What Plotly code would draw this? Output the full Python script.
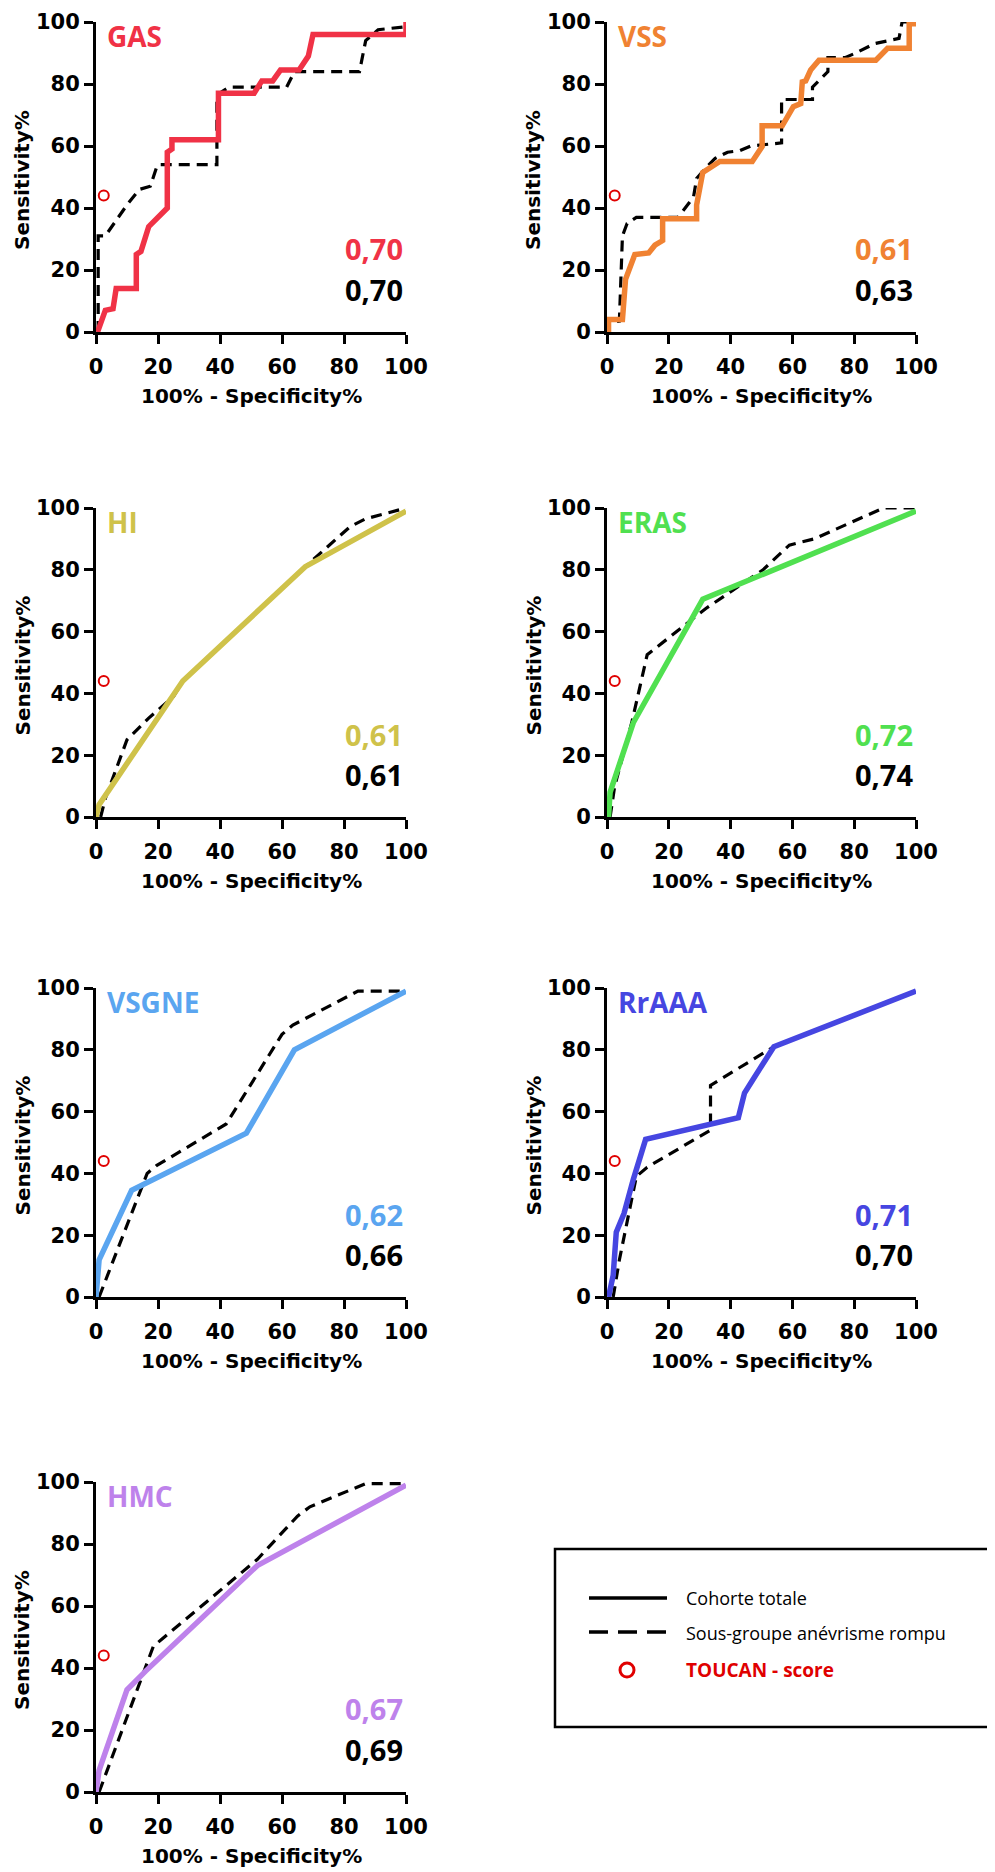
import plotly.graph_objects as go

# ROC curves, x = 100% - Specificity%, y = Sensitivity%
gas_fpr = [0.5, 3, 5.5, 6.5, 13, 13, 14.5, 17, 23, 23, 24.5, 24.5, 39.5, 39.5, 51, 53.5, 57, 59.5, 65.5, 68.5, 70, 100, 100]
gas_sens = [0, 7, 7.5, 14, 14, 25, 26, 34, 40, 58, 59, 62, 62, 77, 77, 81, 81, 84.5, 84.5, 89, 96, 96, 100]
gas_sub_fpr = [0.7, 0.7, 3, 10, 14, 17.5, 19.5, 20, 39, 39, 43, 61.5, 64, 85, 87, 91, 100, 100]
gas_sub_sens = [0, 31, 31, 41, 46, 47, 53, 54, 54, 76.5, 79, 79, 84, 84, 94, 97.5, 98.5, 100]

vss_fpr = [0.5, 0.5, 5, 6, 9, 13.5, 15.5, 18, 18, 29, 29, 31, 36.5, 47, 50.2, 50.2, 56.7, 60.3, 62.7, 63.2, 64.3, 65.9, 68.6, 87, 90.8, 97.8, 97.8, 100]
vss_sens = [0, 4, 4, 17, 25, 25.5, 28, 29.5, 36.5, 36.5, 41, 51.5, 55, 55, 59.8, 66.5, 66.5, 72.7, 73.7, 80.7, 81, 84.5, 87.7, 87.7, 91.5, 91.5, 99.4, 99.4]
vss_sub_fpr = [0, 0.5, 4, 5, 6.5, 9.5, 23, 28, 29, 32, 35, 39, 43, 46.5, 56.5, 56.5, 66.5, 66.5, 71.5, 71.5, 77, 80.5, 86.5, 94.5, 95.5, 100]
vss_sub_sens = [0, 3, 3.5, 31, 35, 37, 37, 43.5, 49.5, 53, 56, 58, 58.5, 60, 61, 75, 75, 79, 84, 88.5, 88.5, 90, 93, 94.7, 100, 100]

hi_fpr = [0, 1, 28, 67.5, 100]
hi_sens = [0, 4, 44, 81, 99]
hi_sub_fpr = [1.5, 3, 10, 17, 25, 28, 67.5, 72, 82, 87, 100]
hi_sub_sens = [0, 6, 25, 32, 39, 44, 81, 85, 94, 96.5, 100]

eras_fpr = [0.5, 1, 8.5, 31, 100]
eras_sens = [0, 8, 30.5, 70.5, 99]
eras_sub_fpr = [1, 2.5, 8, 13, 32, 41, 50.5, 59, 67, 89.5, 100]
eras_sub_sens = [0, 10, 30.5, 52.5, 67.5, 73.5, 80, 88, 90, 100, 100]

vsgne_fpr = [0, 1, 11.5, 48.5, 64, 100]
vsgne_sens = [0, 12, 34.5, 53, 80, 99]
vsgne_sub_fpr = [1, 16.5, 19.5, 42, 60, 63.5, 84.5, 100]
vsgne_sub_sens = [0, 40, 42.5, 56, 85, 88, 99, 99]

rraaa_fpr = [0.5, 2, 3, 5.5, 8.5, 12.5, 42.5, 44.5, 47, 54, 100]
rraaa_sens = [0, 7, 21, 27, 38, 51, 58, 66, 70, 81, 99]
rraaa_sub_fpr = [2, 4, 9.5, 13, 33.5, 33.5, 54, 100]
rraaa_sub_sens = [0, 12, 39, 42, 54, 68.5, 81, 99]

hmc_fpr = [0, 1, 10, 16, 52, 100]
hmc_sens = [0, 7, 33, 39, 73, 99]
hmc_sub_fpr = [1, 12, 18.5, 21.5, 52, 65, 69, 87, 100]
hmc_sub_sens = [0, 29.5, 47, 49.5, 75, 89, 92, 99.5, 99.5]

# TOUCAN score point (same in every panel)
toucan_fpr = [2.5]
toucan_sens = [44]

score_names = ['GAS', 'VSS', 'HI', 'ERAS', 'VSGNE', 'RrAAA', 'HMC']
score_colors = ['#F03246', '#F08232', '#CFC24A', '#50E050', '#5AA5F0', '#4646E1', '#BE82EB']
auc_total = ['0,70', '0,61', '0,61', '0,72', '0,62', '0,71', '0,67']
auc_sub = ['0,70', '0,63', '0,61', '0,74', '0,66', '0,70', '0,69']

curves = [
    (gas_fpr, gas_sens, gas_sub_fpr, gas_sub_sens),
    (vss_fpr, vss_sens, vss_sub_fpr, vss_sub_sens),
    (hi_fpr, hi_sens, hi_sub_fpr, hi_sub_sens),
    (eras_fpr, eras_sens, eras_sub_fpr, eras_sub_sens),
    (vsgne_fpr, vsgne_sens, vsgne_sub_fpr, vsgne_sub_sens),
    (rraaa_fpr, rraaa_sens, rraaa_sub_fpr, rraaa_sub_sens),
    (hmc_fpr, hmc_sens, hmc_sub_fpr, hmc_sub_sens),
]

# page body adds an 8px margin, so the figure is drawn 8px in from the corner
OX, OY = 8, 8
W, H = 995 - OX, 1872 - OY
RED = '#E00000'
cols = [(96, 406), (607, 916)]
rows = [(22, 332), (508, 817), (988, 1297), (1482, 1792)]


def px(xp, yp):
    """screen pixel -> paper fraction"""
    return (xp - OX) / W, 1 - (yp - OY) / H


tick_font = dict(family='DejaVu Sans', size=21, color='black', weight='bold')
axis_common = dict(
    range=[0, 100], tickvals=[0, 20, 40, 60, 80, 100], automargin=False,
    showline=True, linecolor='black', linewidth=3,
    ticks='outside', ticklen=9, tickwidth=3, tickcolor='black',
    showgrid=False, zeroline=False, tickfont=tick_font, fixedrange=True,
)

fig = go.Figure()
annotations = []

for i, name in enumerate(score_names):
    n = i + 1
    sfx = '' if n == 1 else str(n)
    xa, ya = 'x' + sfx, 'y' + sfx
    r, c = divmod(i, 2)
    x0, x1 = cols[c]
    y0, y1 = rows[r]
    fpr, sens, sub_fpr, sub_sens = curves[i]
    color = score_colors[i]

    # subgroup (dashed) first so the total cohort line sits on top
    fig.add_trace(go.Scatter(
        x=sub_fpr, y=sub_sens, mode='lines', xaxis=xa, yaxis=ya,
        line=dict(color='black', width=3.2, dash='11px,7px'),
        showlegend=False, hoverinfo='skip'))
    fig.add_trace(go.Scatter(
        x=fpr, y=sens, mode='lines', xaxis=xa, yaxis=ya,
        line=dict(color=color, width=5.5),
        showlegend=False, hoverinfo='skip'))
    fig.add_trace(go.Scatter(
        x=toucan_fpr, y=toucan_sens, mode='markers', xaxis=xa, yaxis=ya,
        marker=dict(symbol='circle-open', size=10, color=RED, line=dict(width=2, color=RED)),
        cliponaxis=False, showlegend=False, hoverinfo='skip'))

    dx0, dy0 = px(x0, y0)
    dx1, dy1 = px(x1, y1)
    fig.update_layout({
        'xaxis' + sfx: dict(domain=[dx0, dx1], anchor=ya, ticklabelstandoff=5, **axis_common),
        'yaxis' + sfx: dict(domain=[dy1, dy0], anchor=xa, **axis_common),
    })

    # panel title and AUC values
    annotations.append(dict(
        text=name, xref=xa + ' domain', yref=ya + ' domain', x=0.03, y=0.956,
        xanchor='left', yanchor='middle', showarrow=False,
        font=dict(family='Open Sans', size=28, color=color, weight='bold')))
    annotations.append(dict(
        text=auc_total[i], xref=xa + ' domain', yref=ya + ' domain', x=0.997, y=0.268,
        xanchor='right', yanchor='middle', showarrow=False,
        font=dict(family='Open Sans', size=29, color=color, weight='bold')))
    annotations.append(dict(
        text=auc_sub[i], xref=xa + ' domain', yref=ya + ' domain', x=0.997, y=0.138,
        xanchor='right', yanchor='middle', showarrow=False,
        font=dict(family='Open Sans', size=29, color='black', weight='bold')))

    # axis titles
    tx, ty = px(x0 - 74, (y0 + y1) / 2 + 3)
    annotations.append(dict(
        text='Sensitivity%', xref='paper', yref='paper', x=tx, y=ty, textangle=-90,
        xanchor='center', yanchor='middle', showarrow=False,
        font=dict(family='DejaVu Sans', size=20, color='black', weight='bold')))
    tx, ty = px((x0 + x1) / 2, y1 + 64)
    annotations.append(dict(
        text='100% - Specificity%', xref='paper', yref='paper', x=tx, y=ty,
        xanchor='center', yanchor='middle', showarrow=False,
        font=dict(family='DejaVu Sans', size=20, color='black', weight='bold')))

# legend box (drawn by hand)
shapes = []
bx0, by0 = px(555, 1549)
bx1, by1 = px(994, 1727)
shapes.append(dict(type='rect', xref='paper', yref='paper', x0=bx0, x1=bx1, y0=by1, y1=by0,
                   line=dict(color='black', width=2.5), fillcolor='rgba(0,0,0,0)'))
lx0, ly = px(589, 1598)
lx1, ly2 = px(667, 1632)
shapes.append(dict(type='line', xref='paper', yref='paper', x0=lx0, x1=lx1, y0=ly, y1=ly,
                   line=dict(color='black', width=3.5)))
shapes.append(dict(type='line', xref='paper', yref='paper', x0=lx0, x1=lx1, y0=ly2, y1=ly2,
                   line=dict(color='black', width=3.5, dash='19px,10px')))
cx0, cy0 = px(620, 1663)
cx1, cy1 = px(634, 1677)
shapes.append(dict(type='circle', xref='paper', yref='paper', x0=cx0, x1=cx1, y0=cy1, y1=cy0,
                   line=dict(color=RED, width=3)))

legend_labels = ['Cohorte totale', 'Sous-groupe anévrisme rompu', 'TOUCAN - score']
legend_rows = [1598, 1633, 1670]
for label, yrow in zip(legend_labels, legend_rows):
    tx, ty = px(684, yrow)
    is_red = label.startswith('TOUCAN')
    annotations.append(dict(
        text=label, xref='paper', yref='paper', x=tx, y=ty,
        xanchor='left', yanchor='middle', showarrow=False,
        font=dict(family='Open Sans', size=19 if is_red else 18,
                  color=RED if is_red else 'black',
                  weight='bold' if is_red else 'normal')))

fig.update_layout(
    width=W, height=H,
    margin=dict(l=0, r=0, t=0, b=0),
    paper_bgcolor='white', plot_bgcolor='white',
    showlegend=False,
    annotations=annotations,
    shapes=shapes,
)

fig.write_html("out.html")
